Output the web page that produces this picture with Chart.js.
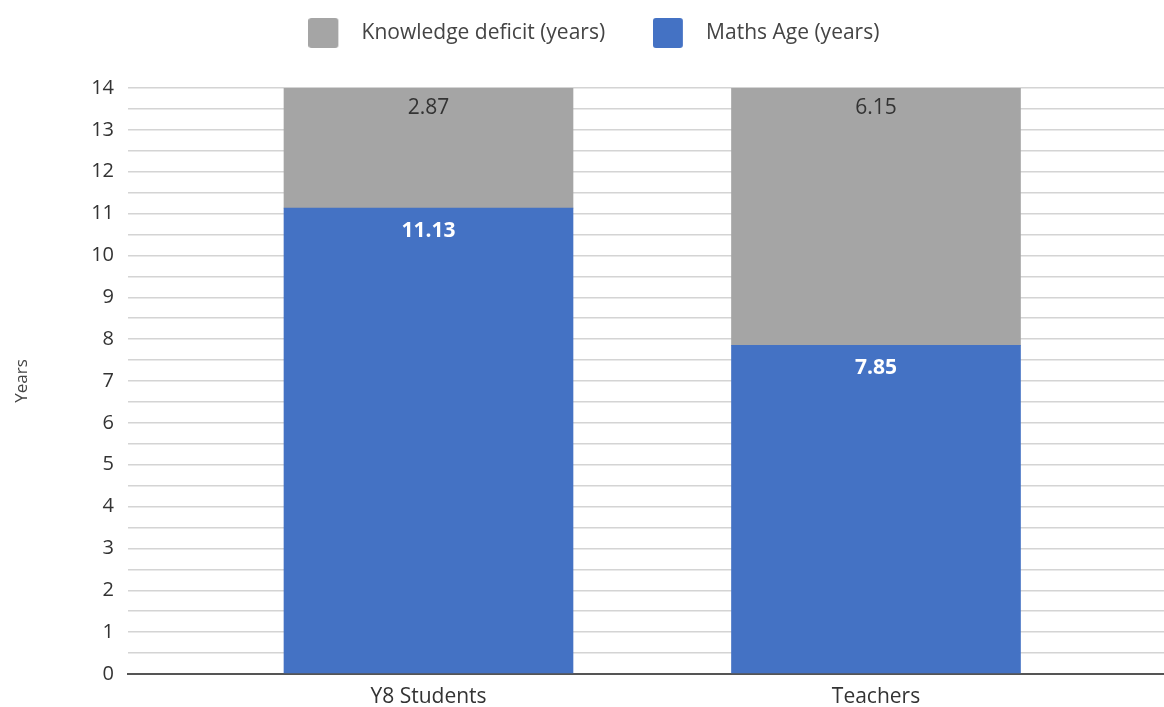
<!DOCTYPE html>
<html>
<head>
<meta charset="utf-8">
<script src="https://cdn.jsdelivr.net/npm/chart.js@4.4.0/dist/chart.umd.min.js"></script>
<style>
html,body{margin:0;padding:0;background:#fff;}
#wrap{width:1164px;height:707px;}
</style>
</head>
<body>
<div id="wrap"><canvas id="c" width="1164" height="707"></canvas></div>
<script>
const categories = ['Y8 Students', 'Teachers'];
const mathsAge = [11.13, 7.85];
const knowledgeDeficit = [2.87, 6.15];
const seriesNames = ['Maths Age (years)', 'Knowledge deficit (years)'];
const yTicks = [0,1,2,3,4,5,6,7,8,9,10,11,12,13,14];

const FONT = '"Open Sans", "Noto Sans", sans-serif';

function makeBox(color) {
  const cv = document.createElement('canvas');
  cv.width = 43; cv.height = 30;
  const g = cv.getContext('2d');
  g.fillStyle = color;
  g.beginPath();
  if (g.roundRect) g.roundRect(0, 0, 30, 30, 3); else g.rect(0, 0, 30, 30);
  g.fill();
  return cv;
}

const layoutPlugin = {
  id: 'layoutFix',
  beforeInit(chart) {
    const lg = chart.legend;
    const fit = lg.fit;
    lg.fit = function() { fit.call(lg); this.height = 88; };
    const draw = lg.draw;
    lg.draw = function(a) {
      const t = this.top, l = this.left, r = this.right;
      this.top = t - 25.5; this.left = l + 12; this.right = r + 12;
      draw.call(this, a);
      this.top = t; this.left = l; this.right = r;
    };
  }
};

const labelPlugin = {
  id: 'barLabels',
  afterDatasetsDraw(chart) {
    const ctx = chart.ctx;
    chart.data.datasets.forEach((ds, di) => {
      const meta = chart.getDatasetMeta(di);
      meta.data.forEach((bar, i) => {
        const v = ds.data[i].y;
        ctx.save();
        ctx.textAlign = 'center';
        ctx.textBaseline = 'middle';
        if (di === 0) {
          ctx.fillStyle = '#ffffff';
          ctx.font = 'bold 21px ' + FONT;
          ctx.fillText(v.toFixed(2), bar.x, bar.y + 23);
        } else {
          ctx.fillStyle = '#333333';
          ctx.font = '21px ' + FONT;
          ctx.fillText(v.toFixed(2), bar.x, bar.y + 20.5);
        }
        ctx.restore();
      });
    });
  }
};

new Chart(document.getElementById('c'), {
  type: 'bar',
  data: {
    datasets: [
      {
        label: seriesNames[0],
        data: mathsAge.map((v, i) => ({x: i, y: v})),
        backgroundColor: '#4472c4',
        barThickness: 289
      },
      {
        label: seriesNames[1],
        data: knowledgeDeficit.map((v, i) => ({x: i, y: v})),
        backgroundColor: '#a5a5a5',
        barThickness: 289
      }
    ]
  },
  options: {
    responsive: false,
    animation: false,
    layout: { padding: 0 },
    plugins: {
      tooltip: { enabled: false },
      legend: {
        position: 'top',
        reverse: true,
        labels: {
          usePointStyle: true,
          pointStyleWidth: 42.5,
          boxHeight: 30,
          padding: 48,
          color: '#444',
          font: { family: FONT, size: 21 },
          generateLabels(chart) {
            const items = Chart.defaults.plugins.legend.labels.generateLabels(chart);
            items.forEach(it => { it.pointStyle = makeBox(it.fillStyle); });
            return items;
          }
        }
      }
    },
    scales: {
      x: {
        type: 'linear',
        stacked: true,
        offset: false,
        min: -0.6715,
        max: 1.6436,
        afterBuildTicks(s) { s.ticks = categories.map((c, i) => ({value: i})); },
        afterFit(s) { s.height = 33; },
        ticks: {
          callback: (v) => categories[v],
          color: '#333',
          font: { family: FONT, size: 21 },
          padding: 10,
          maxRotation: 0,
          autoSkip: false
        },
        grid: { display: false, drawTicks: false },
        border: { display: true, color: '#555', width: 2 }
      },
      y: {
        stacked: true,
        min: 0,
        max: 14,
        afterFit(s) { s.width = 128; },
        afterBuildTicks(s) {
          const t = [];
          yTicks.forEach((v, i) => { t.push({value: v}); if (i < yTicks.length - 1) t.push({value: v + 0.5}); });
          s.ticks = t;
        },
        ticks: {
          callback: (v) => (Number.isInteger(v) ? String(v) : ''),
          color: '#333',
          font: { family: FONT, size: 20 },
          padding: 14,
          autoSkip: false
        },
        grid: {
          drawTicks: false,
          color: (c) => c.tick && c.tick.value === 0 ? '#555' : '#d4d4d4',
          lineWidth: (c) => c.tick && c.tick.value === 0 ? 2 : 1.5
        },
        border: { display: false },
        title: {
          display: true,
          text: 'Years',
          color: '#444',
          font: { family: FONT, size: 17 },
          padding: { top: 12, bottom: 0 }
        }
      }
    }
  },
  plugins: [layoutPlugin, labelPlugin]
});
</script>
</body>
</html>
